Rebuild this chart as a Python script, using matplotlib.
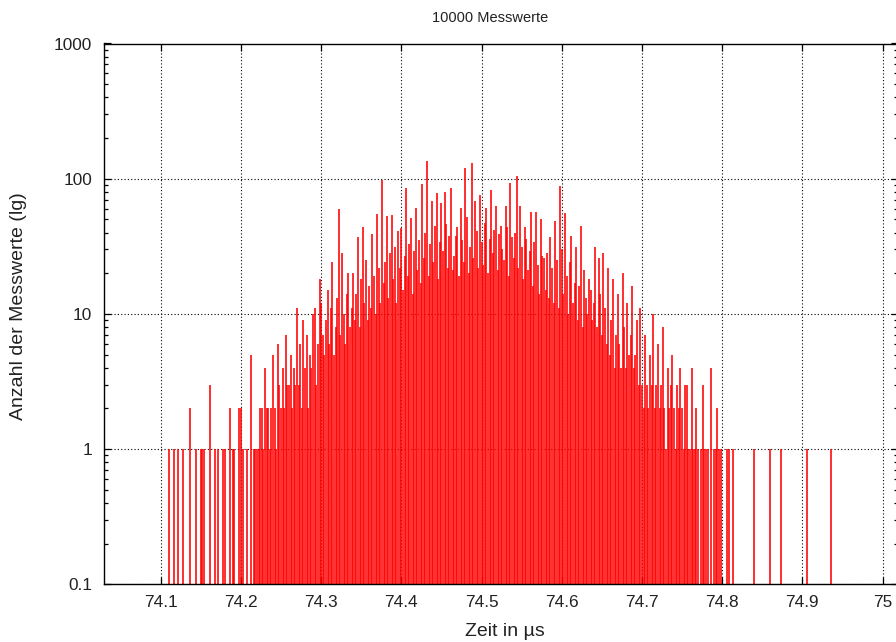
import numpy as np
import matplotlib
matplotlib.use("Agg")
import matplotlib.pyplot as plt
from matplotlib.ticker import FixedLocator, LogLocator, NullFormatter

# Histogram of 10000 time measurements, bins of 0.002 µs starting at 74.100 µs
bin_start = 74.100
bin_width = 0.002
counts = [
    0, 0, 0, 0, 0, 1, 0, 0, 1, 0, 0, 1, 0, 0, 1, 0, 0, 0, 2, 0,
    0, 0, 1, 0, 0, 1, 1, 1, 0, 0, 0, 3, 0, 0, 1, 0, 1, 0, 0, 1,
    1, 0, 0, 2, 0, 1, 1, 0, 0, 2, 2, 1, 0, 0, 1, 0, 5, 0, 1, 1,
    1, 1, 2, 2, 1, 4, 2, 2, 1, 2, 5, 2, 1, 6, 3, 2, 4, 2, 7, 3,
    3, 5, 2, 4, 3, 11, 3, 6, 2, 9, 4, 7, 2, 5, 4, 10, 11, 3, 6, 18,
    12, 7, 5, 9, 15, 6, 11, 24, 5, 8, 13, 60, 7, 28, 10, 6, 14, 20, 8, 11,
    20, 9, 14, 37, 8, 18, 44, 12, 25, 9, 16, 11, 39, 19, 10, 55, 22, 12, 98, 17,
    24, 53, 13, 28, 54, 18, 31, 12, 41, 22, 43, 15, 27, 85, 19, 33, 51, 14, 29, 61,
    21, 35, 17, 92, 26, 40, 135, 19, 33, 68, 24, 45, 78, 18, 34, 66, 29, 80, 46, 22,
    38, 85, 21, 27, 38, 44, 19, 61, 35, 24, 119, 52, 20, 31, 130, 26, 68, 41, 22, 76,
    34, 23, 47, 61, 20, 36, 83, 28, 42, 63, 21, 39, 45, 30, 25, 63, 44, 19, 93, 37,
    26, 40, 105, 22, 63, 31, 18, 44, 36, 21, 29, 57, 16, 34, 57, 23, 14, 50, 27, 26,
    15, 28, 13, 37, 22, 12, 49, 25, 11, 88, 30, 14, 56, 19, 10, 24, 38, 12, 17, 31,
    9, 16, 45, 8, 21, 13, 10, 18, 15, 9, 12, 31, 8, 26, 14, 7, 28, 11, 6, 22,
    5, 9, 18, 4, 7, 14, 6, 4, 20, 8, 4, 12, 5, 7, 16, 4, 5, 9, 3, 11,
    3, 2, 7, 3, 2, 5, 3, 10, 2, 3, 6, 2, 3, 8, 2, 1, 4, 2, 3, 5,
    2, 1, 3, 2, 4, 2, 1, 3, 3, 1, 1, 4, 1, 1, 2, 1, 0, 1, 3, 1,
    1, 1, 0, 4, 0, 1, 1, 2, 1, 1, 0, 0, 0, 1, 1, 0, 0, 1, 0, 0,
    0, 0, 0, 0, 0, 0, 0, 0, 0, 0, 1, 0, 0, 0, 0, 0, 0, 0, 0, 0,
    1, 0, 0, 0, 0, 0, 0, 1, 0, 0, 0, 0, 0, 0, 0, 0, 0, 0, 0, 0,
    0, 0, 0, 1, 0, 0, 0, 0, 0, 0, 0, 0, 0, 0, 0, 0, 0, 0, 1, 0, 0,
]
x_ticks = [74.1, 74.2, 74.3, 74.4, 74.5, 74.6, 74.7, 74.8, 74.9, 75.0]
x_tick_labels = ["74.1", "74.2", "74.3", "74.4", "74.5", "74.6", "74.7", "74.8", "74.9", "75"]
y_ticks = [0.1, 1, 10, 100, 1000]
y_tick_labels = ["0.1", "1", "10", "100", "1000"]

plt.rcParams["font.family"] = ["Liberation Sans", "DejaVu Sans"]

counts = np.asarray(counts, dtype=float)
times = bin_start + bin_width * np.arange(len(counts))
nz = counts > 0

fig = plt.figure(figsize=(8.96, 6.42), dpi=100)
ax = fig.add_axes([104 / 896, 1 - 584.3 / 642, 794 / 896, (584.3 - 43.5) / 642])
ax.set_yscale("log")
ax.set_xlim(74.0293, 75.0193)
ax.set_ylim(0.1, 1000)

# impulses from the bottom of the plot up to each count
ax.vlines(times[nz], 0.01, counts[nz], colors="#ff0000", linewidth=1.15, zorder=2)

ax.xaxis.set_major_locator(FixedLocator(x_ticks))
ax.set_xticklabels(x_tick_labels)
ax.yaxis.set_major_locator(FixedLocator(y_ticks))
ax.set_yticklabels(y_tick_labels)
ax.yaxis.set_minor_locator(LogLocator(base=10, subs=np.arange(2, 10)))
ax.yaxis.set_minor_formatter(NullFormatter())
ax.xaxis.set_minor_locator(FixedLocator([]))

ax.tick_params(which="both", direction="in", top=True, right=True, colors="black",
               labelsize=12.4, labelcolor="#222222")
ax.tick_params(which="major", length=5, width=0.9)
ax.tick_params(which="minor", length=3, width=0.9)
ax.tick_params(axis="x", pad=7.5)
ax.tick_params(axis="y", pad=8.5)

ax.grid(True, which="major", color="black", linestyle=(0, (1, 2)), linewidth=0.8, zorder=1)
ax.set_axisbelow(True)
for s in ax.spines.values():
    s.set_linewidth(1.0)
    s.set_zorder(3)

fig.text(490 / 896, 1 - 18 / 642, "10000 Messwerte", ha="center", va="center",
         fontsize=10.5, color="#222222")
fig.text(505 / 896, 1 - 631 / 642, "Zeit in µs", ha="center", va="center",
         fontsize=14, color="#222222")
fig.text(19 / 896, 1 - 306 / 642, "Anzahl der Messwerte (lg)", ha="center", va="center",
         rotation=90, fontsize=14, color="#222222")

fig.savefig("out.png", dpi=100)
